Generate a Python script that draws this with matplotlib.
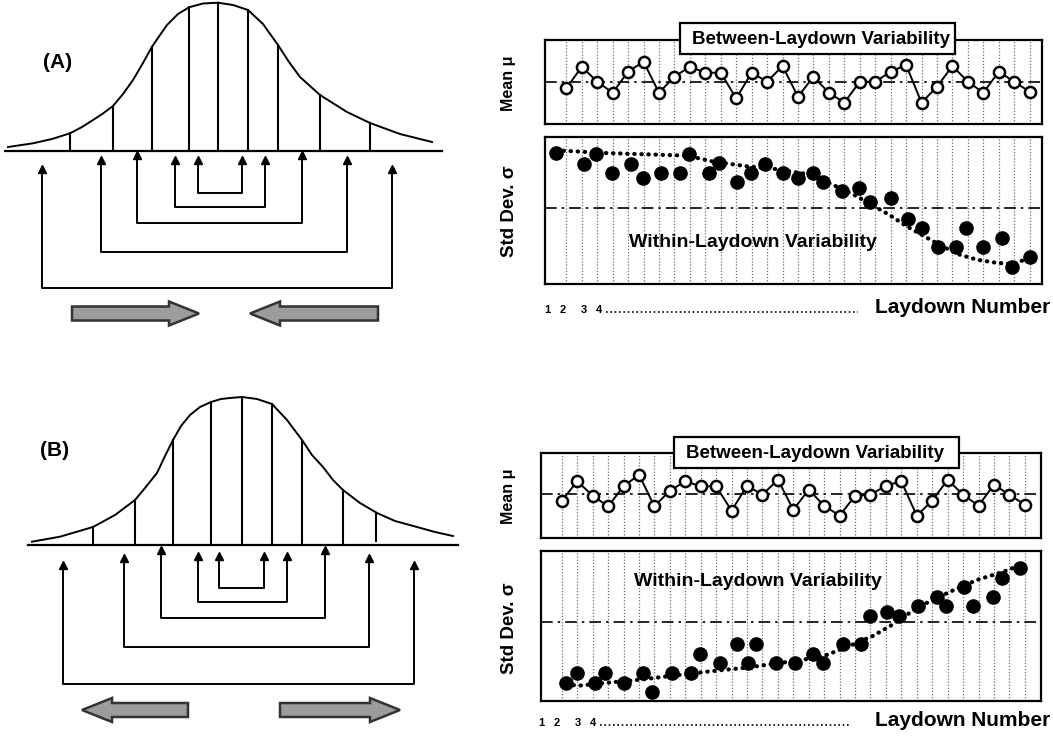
import matplotlib
matplotlib.use("Agg")
import matplotlib.pyplot as plt
from matplotlib.patches import Rectangle, Polygon

plt.rcParams['font.family'] = ['Liberation Sans', 'DejaVu Sans']

W, H = 1053, 738

# ---- right hand panels: laydown data ----
laydown = list(range(1, 32))

# deviation of the laydown mean from the overall mean (A and B)
meanA = [-6.7, 15, 0, -11, 10, 20, -11, 5, 15, 9, 9, -16.7, 9, 0, 15.7, -15,
         5, -11, -21, 0, 0, 10, 16.7, -21, -5, 15.7, 0, -11, 10, 0, -10]
meanB = [-6.7, 12.7, -1.7, -12.3, 7.7, 19.3, -12.3, 3.3, 12.7, 7.7, 7.7, -16.7,
         8.3, -0.7, 14.3, -15.7, 4.3, -11.7, -21.7, -1.7, -0.7, 8.3, 12.7, -21.7,
         -6.7, 14.3, -0.7, -11.7, 9.3, -0.7, -10.7]

# within-laydown std dev (A: shrinking, B: growing)
stdA_x = [0.36, 2.12, 2.95, 3.98, 5.22, 5.98, 7.12, 8.39, 8.96, 10.22, 10.86,
          12.06, 12.97, 13.89, 15.04, 16.02, 16.99, 17.61, 18.82, 19.97, 20.66,
          22.03, 23.13, 24.03, 25.06, 26.2, 26.85, 28.0, 29.2, 29.83, 31.02]
stdA = [0.89, 0.816, 0.886, 0.755, 0.816, 0.72, 0.755, 0.755, 0.886, 0.755,
        0.823, 0.693, 0.755, 0.816, 0.755, 0.72, 0.755, 0.693, 0.63, 0.652,
        0.561, 0.584, 0.441, 0.38, 0.25, 0.25, 0.38, 0.25, 0.311, 0.118, 0.182]
trendA_x = [0.36, 3.57, 8.84, 10.45, 12.74, 14.58, 16.87, 18.48, 19.62, 20.77,
            21.92, 23.06, 24.21, 25.36, 26.5, 27.65, 28.8, 29.83, 31.02]
trendA = [0.909, 0.891, 0.873, 0.834, 0.8, 0.782, 0.743, 0.664, 0.607, 0.539,
          0.47, 0.391, 0.323, 0.255, 0.198, 0.164, 0.145, 0.136, 0.175]

stdB_x = [1.3, 1.99, 3.18, 3.78, 5.01, 6.23, 6.87, 8.11, 9.37, 9.97, 11.23,
          12.38, 13.04, 13.57, 14.9, 16.09, 17.28, 17.93, 19.19, 20.38, 20.97,
          22.05, 22.86, 24.07, 25.31, 25.9, 27.06, 27.67, 28.94, 29.51, 30.72]
stdB = [0.122, 0.189, 0.122, 0.189, 0.122, 0.189, 0.062, 0.189, 0.189, 0.313,
        0.251, 0.378, 0.251, 0.378, 0.251, 0.251, 0.313, 0.251, 0.378, 0.378,
        0.567, 0.596, 0.567, 0.633, 0.691, 0.633, 0.758, 0.633, 0.696, 0.822,
        0.884]
trendB_x = [1.3, 2.1, 3.94, 6.23, 8.52, 10.82, 13.11, 14.94, 16.55, 18.16,
            19.53, 21.14, 22.28, 23.43, 24.58, 25.72, 26.87, 28.02, 29.62, 30.89]
trendB = [0.111, 0.102, 0.122, 0.144, 0.173, 0.2, 0.224, 0.251, 0.273, 0.307,
          0.362, 0.433, 0.5, 0.58, 0.651, 0.707, 0.762, 0.811, 0.862, 0.913]

refA, refB = 0.516, 0.524

# ---- left hand diagrams (page pixel coordinates) ----
bellA_x = [8, 33, 52, 70, 82, 93, 103, 113, 123, 133, 143, 152, 160, 167, 178,
           189, 203, 218, 233, 248, 263, 278, 289, 300, 320, 347, 370, 400, 432]
bellA_y = [147, 143.3, 139, 133.3, 127, 120, 113.5, 106, 94, 80, 63, 46.7, 35,
           25, 14, 7.3, 3.5, 2.7, 5, 10, 24, 45, 62, 77, 95, 112, 123, 134, 142]
linesA_x = [70, 113, 152, 189, 218, 248, 278, 320, 370]
linesA_top = [133, 106, 47, 7, 3, 10, 45, 95, 123]
baseA = (5, 442, 151)
# bracket: left x, right x, bottom y, arrow tip y
bracketsA = [(198, 242, 193, 157), (175, 265, 207, 157), (137, 302, 223, 152),
             (101, 347, 252, 157), (42, 392, 288, 166)]
arrowsA = [(72, 199, 313.5), (378, 250, 313.5)]

bellB_x = [32, 60, 93, 115, 135, 145, 157, 165, 173, 181, 190, 200, 211, 221,
           230, 242, 257, 272, 287, 302, 312, 323, 333, 343, 360, 377, 395, 417,
           435, 453]
bellB_y = [541.7, 536.7, 527, 515, 500, 488, 473, 456, 440, 426, 415, 407, 402,
           399, 398, 397, 399, 404, 420, 440, 455, 467, 480, 490, 503, 513, 521,
           527, 532, 536]
linesB_x = [93, 135, 173, 211, 242, 272, 302, 343, 376]
linesB_top = [527, 500, 440, 402, 397, 404, 440, 490, 513]
linesB_bot = [545, 545, 545, 545, 545, 545, 545, 545, 541]
baseB = (28, 458, 545)
bracketsB = [(219, 264, 588, 553), (198, 287, 602, 553), (161, 325, 618, 547),
             (124, 369, 647, 555), (63, 414, 684, 562)]
arrowsB = [(188, 82, 710), (280, 400, 710)]

digits = ['1', '2', '3', '4']
digit_x = [547, 563, 584, 599]

fig = plt.figure(figsize=(W / 100, H / 100), dpi=100)


def px_axes(x0, y0, x1, y1):
    return fig.add_axes([x0 / W, 1 - y1 / H, (x1 - x0) / W, (y1 - y0) / H])


def panel(ax, xlim, ylim, ref):
    ax.set_xlim(*xlim)
    ax.set_ylim(*ylim)
    ax.set_xticks([])
    ax.set_yticks([])
    for s in ax.spines.values():
        s.set_linewidth(1.6)
    for i in laydown:
        ax.axvline(i, color='#6e6e6e', lw=0.9, ls=(0, (1, 1.5)), zorder=1)
    ax.axhline(ref, color='black', lw=1.2, ls=(0, (7, 3, 1.5, 3)), zorder=2)


# panel A
ax = px_axes(545, 40, 1042, 124)
panel(ax, (-0.38, 31.8), (-42.3, 41.7), 0)
ax.plot(laydown, meanA, '-o', color='black', lw=1.4, mfc='white', mec='black',
        ms=8, mew=1.8, zorder=3)

ax = px_axes(545, 137, 1042, 284)
panel(ax, (-0.38, 31.8), (0, 1), refA)
ax.plot(trendA_x, trendA, color='black', lw=3, ls=(0, (0.1, 1.6)),
        dash_capstyle='round', zorder=3)
ax.plot(stdA_x, stdA, 'o', color='black', ms=9.5, zorder=4)
ax.text(13.1, 0.28, 'Within-Laydown Variability', ha='center', va='center',
        fontsize=14, fontweight='bold', zorder=5)

# panel B
ax = px_axes(541, 453, 1041, 538)
panel(ax, (-0.35, 32.05), (-44, 41), 0)
ax.plot(laydown, meanB, '-o', color='black', lw=1.4, mfc='white', mec='black',
        ms=8, mew=1.8, zorder=3)

ax = px_axes(541, 551, 1041, 701)
panel(ax, (-0.35, 32.05), (0, 1), refB)
ax.plot(trendB_x, trendB, color='black', lw=3, ls=(0, (0.1, 1.6)),
        dash_capstyle='round', zorder=3)
ax.plot(stdB_x, stdB, 'o', color='black', ms=9.5, zorder=4)
ax.text(13.7, 0.796, 'Within-Laydown Variability', ha='center', va='center',
        fontsize=14, fontweight='bold', zorder=5)

# overlay in page pixels
ov = fig.add_axes([0, 0, 1, 1], zorder=10)
ov.set_xlim(0, W)
ov.set_ylim(H, 0)
ov.axis('off')


def diagram(bx, by, lx, ltop, lbot, base, brackets, arrows):
    ov.plot(bx, by, color='black', lw=1.4)
    ov.plot([base[0], base[1]], [base[2], base[2]], color='black', lw=1.6)
    for x, t, b in zip(lx, ltop, lbot):
        ov.plot([x, x], [t, b], color='black', lw=1.5)
    for xl, xr, yb, tip in brackets:
        ov.plot([xl, xl, xr, xr], [tip + 4, yb, yb, tip + 4], color='black', lw=1.4)
        ov.plot([xl, xr], [tip + 3, tip + 3], '^', color='black', ms=6, ls='none')
    for tail, tip, yc in arrows:
        d = 1 if tip > tail else -1
        hb = tip - d * 30
        pts = [(tail, yc - 7), (hb, yc - 7), (hb, yc - 12), (tip, yc),
               (hb, yc + 12), (hb, yc + 7), (tail, yc + 7)]
        ov.add_patch(Polygon(pts, closed=True, fc='#9c9c9c', ec='#333333', lw=1.8))


diagram(bellA_x, bellA_y, linesA_x, linesA_top, [baseA[2]] * len(linesA_x),
        baseA, bracketsA, arrowsA)
diagram(bellB_x, bellB_y, linesB_x, linesB_top, linesB_bot, baseB, bracketsB,
        arrowsB)

ov.text(58, 62, '(A)', fontsize=15, fontweight='bold', ha='center', va='center')
ov.text(55, 450, '(B)', fontsize=15, fontweight='bold', ha='center', va='center')

# axis labels
for y, lab, fs in [(83, 'Mean μ', 11.5), (211, 'Std Dev. σ', 13.5),
                   (496, 'Mean μ', 11.5), (628, 'Std Dev. σ', 13.5)]:
    ov.text(509, y, lab, rotation=90, fontsize=fs, fontweight='bold',
            ha='center', va='center')

# title boxes
for x0, x1, y0, y1, xc in [(680, 955, 23, 54, 821), (674, 959, 437, 468, 815)]:
    ov.add_patch(Rectangle((x0, y0), x1 - x0, y1 - y0, fc='white', ec='black', lw=1.6))
    ov.text(xc, (y0 + y1) / 2 + 1, 'Between-Laydown Variability', fontsize=13.5,
            fontweight='bold', ha='center', va='center')

# laydown number axis text
for yb, dx, x_end in [(313, 0, 858), (726, -6, 850)]:
    for d, x in zip(digits, digit_x):
        ov.text(x + dx, yb, d, fontsize=8, fontweight='bold', ha='center', va='baseline')
    ov.plot([606 + dx, x_end], [yb - 1, yb - 1], color='black', lw=1.2,
            ls=(0, (1, 1.6)))
    ov.text(1050, yb, 'Laydown Number', fontsize=15, fontweight='bold',
            ha='right', va='baseline')

fig.savefig('out.png', dpi=100)
